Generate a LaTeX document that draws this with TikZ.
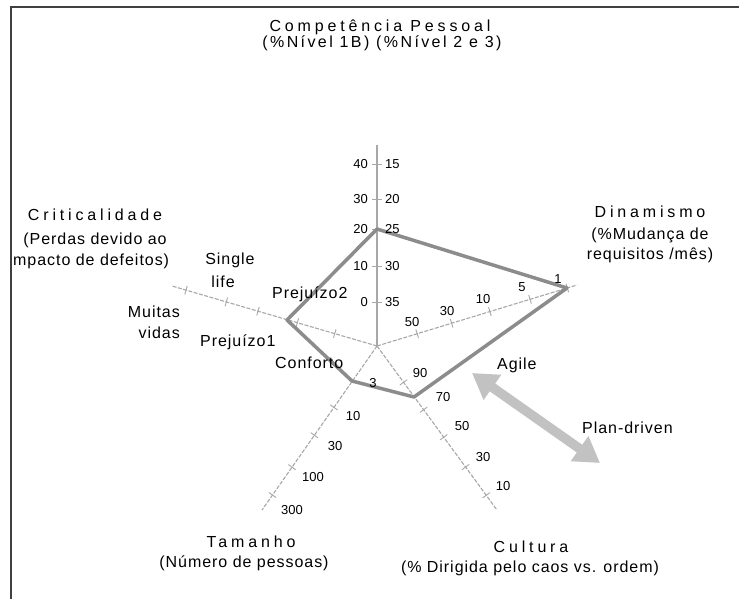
\documentclass[tikz,border=0pt]{standalone}
\usepackage{fontspec}
\setmainfont{Liberation Sans}
\newfontfamily\lblfont[LetterSpace=6]{Liberation Sans}
\newfontfamily\widelblfont[LetterSpace=15]{Liberation Sans}
\newfontfamily\ttlfont[LetterSpace=24]{Liberation Sans}
\newfontfamily\numfont{Liberation Sans}
\usetikzlibrary{arrows.meta,calc}
\definecolor{framec}{HTML}{404040}
\definecolor{axisc}{HTML}{A8A8A8}
\definecolor{polyc}{HTML}{8C8C8C}
\definecolor{arrowc}{HTML}{C2C2C2}
\newcommand{\tickmark}[1]{\draw[tickline] ($(#1)!4.5pt!90:(ctr)$) -- ($(#1)!4.5pt!-90:(ctr)$);}
\begin{document}
\begin{tikzpicture}[x=1pt,y=-1pt,
  lbl/.style={font=\lblfont\fontsize{16}{18}\selectfont, inner sep=0pt, anchor=base},
  wlbl/.style={font=\widelblfont\fontsize{16}{18}\selectfont, inner sep=0pt, anchor=base},
  ttl/.style={font=\ttlfont\fontsize{16}{18}\selectfont, inner sep=0pt, anchor=base},
  num/.style={font=\numfont\fontsize{13}{15}\selectfont, inner sep=0pt},
  axisline/.style={draw=axisc, line width=1.3pt},
  daxis/.style={axisline, line width=1.1pt, dash pattern=on 4pt off 1.5pt},
  tickline/.style={draw=axisc, line width=0.9pt},
  poly/.style={draw=polyc, line width=3.5pt, line join=round},
  framel/.style={draw=framec, line width=2.2pt},
  dblarrow/.style={draw=arrowc, line width=9.5pt, {Triangle[length=25pt,width=29pt]}-{Triangle[length=25pt,width=29pt]}}
]
\useasboundingbox (0,0) rectangle (739,599);
\fill[white] (0,0) rectangle (739,599);
% frame
\coordinate (fBL) at (11,599);
\coordinate (fTL) at (11,7);
\coordinate (fTR) at (739,7);
\draw[framel] (fBL) -- (fTL) -- (fTR);

% axes
\coordinate (ctr) at (377,346);
\coordinate (vEnd) at (377,145);
\coordinate (rEnd) at (577,285);
\coordinate (lEnd) at (172,286);
\coordinate (tEnd) at (262,510);
\coordinate (cEnd) at (497,510);
\draw[axisline] (ctr) -- (vEnd);
\draw[daxis] (ctr) -- (rEnd);
\draw[daxis] (ctr) -- (lEnd);
\draw[daxis] (ctr) -- (tEnd);
\draw[daxis] (ctr) -- (cEnd);

% ticks vertical
\foreach \yy in {164,199,229,266,302}{
  \draw[tickline] (372,\yy) -- (382,\yy);
}
% ticks on oblique axes
\foreach \d [count=\i] in {42,78,118,160,199}{
  \coordinate (rt\i) at ($(ctr)!\d pt!(rEnd)$);
  \tickmark{rt\i}
}
\foreach \d [count=\i] in {44,83,124,157,199}{
  \coordinate (lt\i) at ($(ctr)!\d pt!(lEnd)$);
  \tickmark{lt\i}
}
\foreach \d [count=\i] in {42,75,109,148,182}{
  \coordinate (tt\i) at ($(ctr)!\d pt!(tEnd)$);
  \tickmark{tt\i}
}
\foreach \d [count=\i] in {45,79,113,150,185}{
  \coordinate (ct\i) at ($(ctr)!\d pt!(cEnd)$);
  \tickmark{ct\i}
}

% polygon
\coordinate (pTop) at (377,229);
\coordinate (pR) at (567,288);
\coordinate (pCu) at (414,397);
\coordinate (pTa) at (352,381);
\coordinate (pCr) at (287,320);
\draw[poly] (pTop) -- (pR) -- (pCu) -- (pTa) -- (pCr) -- cycle;

% double arrow
\coordinate (arA) at (472,373);
\coordinate (arB) at (600,463);
\draw[dblarrow] (arA) -- (arB);

% vertical axis numbers
\node[num, anchor=east] (vl40) at (368,164) {40};
\node[num, anchor=east] (vl30) at (368,199) {30};
\node[num, anchor=east] (vl20) at (368,229) {20};
\node[num, anchor=east] (vl10) at (368,266) {10};
\node[num, anchor=east] (vl0) at (368,302) {0};
\node[num, anchor=west] (vr15) at (385,164) {15};
\node[num, anchor=west] (vr20) at (385,199) {20};
\node[num, anchor=west] (vr25) at (385,229) {25};
\node[num, anchor=west] (vr30) at (385,266) {30};
\node[num, anchor=west] (vr35) at (385,302) {35};
% dinamismo numbers
\node[num] (d1) at (558,279) {1};
\node[num] (d5) at (522,287) {5};
\node[num] (d10) at (483,299) {10};
\node[num] (d30) at (447,311) {30};
\node[num] (d50) at (412,322) {50};
% tamanho numbers
\node[num] (t3) at (373,383) {3};
\node[num] (t10) at (353,416) {10};
\node[num] (t30) at (335,446) {30};
\node[num] (t100) at (313,477) {100};
\node[num] (t300) at (292,510) {300};
% cultura numbers
\node[num] (c90) at (420,373) {90};
\node[num] (c70) at (443,397) {70};
\node[num] (c50) at (462,426) {50};
\node[num] (c30) at (483,457) {30};
\node[num] (c10) at (503,486) {10};

% titles
\node[ttl] (compT) at (380,32) {Competência Pessoal};
\node[wlbl] (compS) at (382,48) {(\%Nível 1B) (\%Nível 2 e 3)};
\node[ttl] (dinT) at (650,217) {Dinamismo};
\node[lbl] (dinS1) at (650,239) {(\%Mudança de};
\node[lbl] (dinS2) at (650,259) {requisitos /mês)};
\node[ttl] (criT) at (95,220) {Criticalidade};
\node[lbl] (criS1) at (95,244) {(Perdas devido ao};
\node[lbl, anchor=base west] (criS2) at (13,265) {mpacto de defeitos)};
\node[ttl] (tamT) at (251,547) {Tamanho};
\node[lbl] (tamS) at (244,567) {(Número de pessoas)};
\node[ttl] (culT) at (531,552) {Cultura};
\node[lbl] (culS) at (530,572) {(\% Dirigida pelo caos vs. ordem)};

% other labels
\node[lbl] (single) at (230,264) {Single};
\node[lbl] (life) at (223,287) {life};
\node[lbl, anchor=base east] (muitas) at (180,317) {Muitas};
\node[lbl, anchor=base east] (vidas) at (180,338) {vidas};
\node[lbl, anchor=base west] (prej1) at (200,346) {Prejuízo1};
\node[lbl, anchor=base west] (prej2) at (272,298) {Prejuízo2};
\node[lbl, anchor=base west] (conf) at (275,368) {Conforto};
\node[lbl, anchor=base west] (agile) at (497,369) {Agile};
\node[lbl, anchor=base west] (plan) at (582,433) {Plan-driven};
\end{tikzpicture}
\end{document}
